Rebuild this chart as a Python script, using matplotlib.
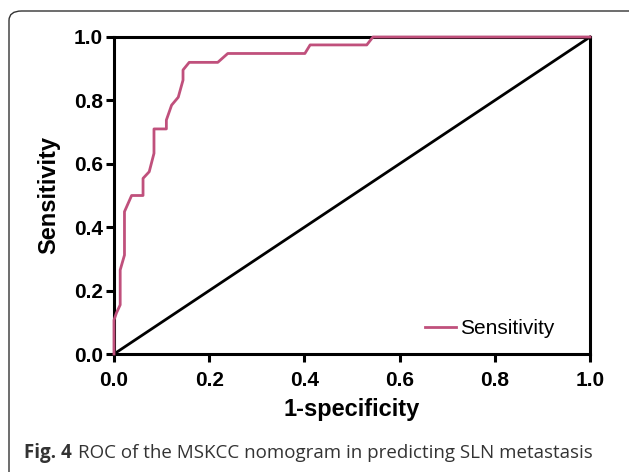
#Imports
import matplotlib
matplotlib.use('Agg')
import matplotlib.pyplot as plt
from matplotlib.patches import FancyBboxPatch

#Data
fpr = [0.0, 0.0, 0.005, 0.013, 0.013, 0.022, 0.022, 0.037, 0.061, 0.061,
       0.074, 0.084, 0.084, 0.110, 0.110, 0.121, 0.135, 0.145, 0.145, 0.158,
       0.218, 0.239, 0.401, 0.412, 0.531, 0.544, 1.0]
tpr = [0.0, 0.107, 0.129, 0.155, 0.265, 0.312, 0.449, 0.5, 0.5, 0.554,
       0.575, 0.633, 0.71, 0.71, 0.738, 0.785, 0.81, 0.864, 0.896, 0.92,
       0.92, 0.948, 0.948, 0.975, 0.975, 1.0, 1.0]
ref_line = [0.0, 1.0]
ticks = [0.0, 0.2, 0.4, 0.6, 0.8, 1.0]
tick_labels = ['0.0', '0.2', '0.4', '0.6', '0.8', '1.0']

plt.rcParams['font.family'] = ['Liberation Sans', 'DejaVu Sans']

fig = plt.figure(figsize=(6.29, 4.72), dpi=100)

#Rounded frame around the figure
frame = FancyBboxPatch((9 / 629, -0.2), 1.2, 1.2 - 11 / 472,
                       boxstyle='round,pad=0,rounding_size=0.02',
                       transform=fig.transFigure, fill=False,
                       edgecolor='#333333', linewidth=1.0)
fig.patches.append(frame)

ax = fig.add_axes([114 / 629, 0.25, (590 - 114) / 629, (354 - 37) / 472])

#Plot curve and diagonal
ax.plot(fpr, tpr, color='#c0507c', linewidth=2.0, label='Sensitivity',
        clip_on=False, zorder=3)
ax.plot(ref_line, ref_line, color='black', linewidth=2.0, clip_on=False)

ax.set_xlim(0, 1)
ax.set_ylim(0, 1)
ax.set_xticks(ticks)
ax.set_yticks(ticks)
ax.set_xticklabels(tick_labels, fontsize=15, fontweight='bold')
ax.set_yticklabels(tick_labels, fontsize=15, fontweight='bold')
ax.tick_params(direction='out', length=6, width=2.2, pad=2)
ax.tick_params(axis='x', pad=6)
for s in ax.spines.values():
    s.set_linewidth(2.2)

ax.set_xlabel('1-specificity', fontsize=17, fontweight='bold', labelpad=6)
ax.set_ylabel('Sensitivity', fontsize=17, fontweight='bold', labelpad=10)

ax.legend(loc='lower right', bbox_to_anchor=(0.965, -0.01), frameon=False,
          fontsize=15, handlelength=1.5, handletextpad=0.2)

#Caption
fig.text(24 / 629, 14 / 472, 'Fig. 4', fontsize=13.5, fontweight='bold',
         family='Open Sans', color='#333333', ha='left', va='baseline')
fig.text(78 / 629, 14 / 472,
         'ROC of the MSKCC nomogram in predicting SLN metastasis',
         fontsize=13.5, family='Open Sans', color='#333333',
         ha='left', va='baseline')

fig.savefig('out.png', dpi=100)
plt.close(fig)
